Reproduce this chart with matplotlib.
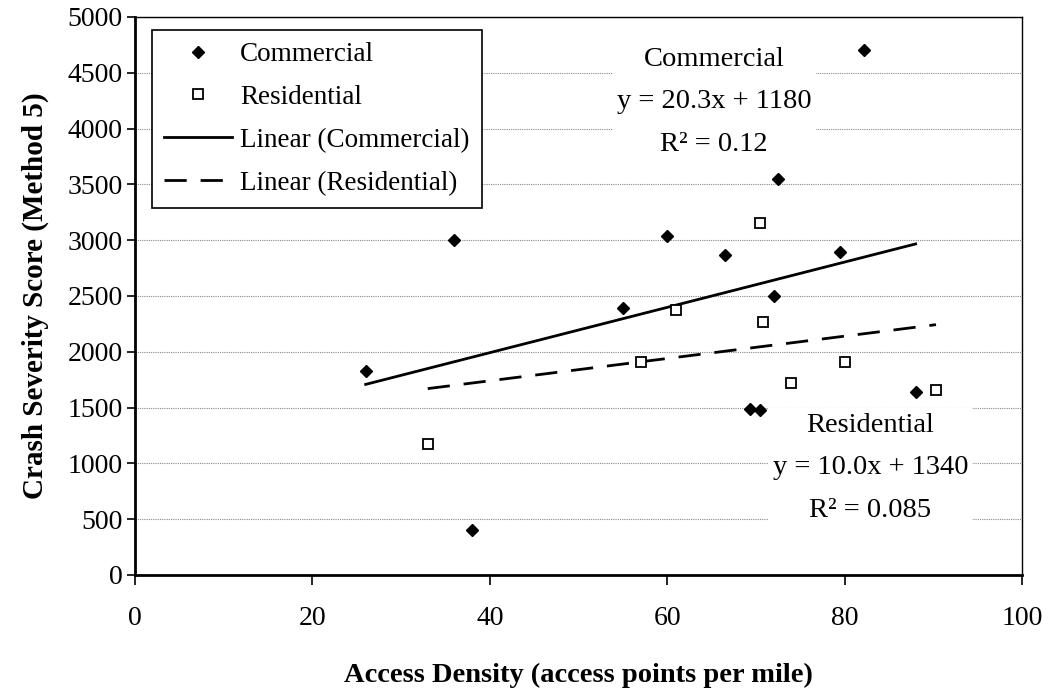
import matplotlib
matplotlib.use("Agg")
import matplotlib.pyplot as plt
import numpy as np

plt.rcParams['font.family'] = ['Liberation Serif', 'DejaVu Serif']

com_x = [26, 36, 38, 55, 60, 66.5, 69.3, 70.5, 72, 72.5, 79.5, 82.2, 88]
com_y = [1830, 3000, 400, 2390, 3040, 2870, 1490, 1480, 2500, 3550, 2890, 4700, 1640]
res_x = [33, 57, 61, 70.5, 70.8, 74, 80, 90.3]
res_y = [1170, 1910, 2370, 3150, 2270, 1720, 1910, 1660]

com_fit = (20.3, 1180)
res_fit = (10.0, 1340)
com_r2 = "0.12"
res_r2 = "0.085"

xticks = [0, 20, 40, 60, 80, 100]
yticks = list(range(0, 5001, 500))

FS = 20

fig = plt.figure(figsize=(10.6, 6.9), dpi=100)
ax = fig.add_axes([0.1274, 0.1667, 0.9642 - 0.1274, 0.9754 - 0.1667])

ax.set_xlim(0, 100)
ax.set_ylim(0, 5000)
ax.set_xticks(xticks)
ax.set_yticks(yticks)
ax.yaxis.grid(True, color='#888888', linestyle=(0, (1, 1)), linewidth=0.8)
ax.set_axisbelow(True)

for s in ['left', 'bottom']:
    ax.spines[s].set_linewidth(2)
for s in ['top', 'right']:
    ax.spines[s].set_linewidth(1)

ax.tick_params(axis='both', labelsize=FS, direction='out', width=1.2, colors='black')
ax.tick_params(axis='x', length=7, pad=15)
ax.tick_params(axis='y', length=6, pad=3)

ax.plot(com_x, com_y, linestyle='none', marker='D', markersize=6.5,
        color='black', label='Commercial', zorder=3)
ax.plot(res_x, res_y, linestyle='none', marker='s', markersize=7.5,
        markerfacecolor='white', markeredgecolor='black', markeredgewidth=1.3,
        label='Residential', zorder=3)

cx = np.array([min(com_x), max(com_x)])
rx = np.array([min(res_x), max(res_x)])
ax.plot(cx, com_fit[0] * cx + com_fit[1], color='black', linewidth=2,
        label='Linear (Commercial)', zorder=2)
ax.plot(rx, res_fit[0] * rx + res_fit[1], color='black', linewidth=2,
        linestyle=(0, (8, 5)), label='Linear (Residential)', zorder=2)

leg = ax.legend(loc='upper left', bbox_to_anchor=(0.019, 0.977), fontsize=19.5,
                frameon=True, fancybox=False, edgecolor='black', framealpha=1,
                handlelength=2.5, handletextpad=0.3, labelspacing=0.66,
                borderpad=0.45, borderaxespad=0)
leg.get_frame().set_linewidth(1.2)

ax.text(65.3, 4240,
        "Commercial\n" + f"y = {com_fit[0]:.1f}x + {com_fit[1]:.0f}\n" + "R² = " + com_r2,
        ha='center', va='center', fontsize=20.5, linespacing=1.93,
        bbox=dict(facecolor='white', edgecolor='none', pad=3), zorder=4)
ax.text(82.9, 960,
        "Residential\n" + f"y = {res_fit[0]:.1f}x + {res_fit[1]:.0f}\n" + "R² = " + res_r2,
        ha='center', va='center', fontsize=20.5, linespacing=1.93,
        bbox=dict(facecolor='white', edgecolor='none', pad=3), zorder=4)

ax.set_xlabel('Access Density (access points per mile)', fontsize=20.5,
              fontweight='bold', labelpad=23)
ax.set_ylabel('Crash Severity Score (Method 5)', fontsize=21,
              fontweight='bold', labelpad=13)

fig.savefig('out.png', dpi=100)
